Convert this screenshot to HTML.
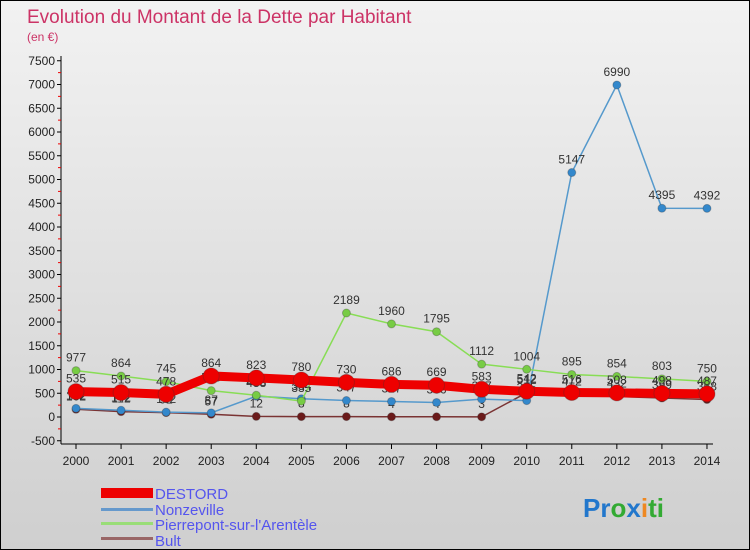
<!DOCTYPE html>
<html><head><meta charset="utf-8"><style>
body{margin:0;}
#wrap{width:748px;height:548px;border:1px solid #000;background:linear-gradient(#f2f2f2,#cfcfcf);position:relative;overflow:hidden;font-family:"Liberation Sans",sans-serif;}
</style></head><body>
<div id="wrap">
<svg id="svg" width="748" height="548" style="position:absolute;left:0;top:0" font-family="Liberation Sans, sans-serif">
<text x="26" y="22" font-size="19" fill="#cc3366">Evolution du Montant de la Dette par Habitant</text>
<text x="26" y="40" font-size="12" fill="#cc3366">(en €)</text>
<g id="axes"></g><g id="series"></g>
<g>
<rect x="100" y="487" width="52" height="10" fill="#ee0000"/>
<text x="154" y="498" font-size="15" fill="#5555ee">DESTORD</text>
<rect x="100" y="507" width="52" height="3" fill="#6699cc"/>
<text x="154" y="514" font-size="15" fill="#5555ee">Nonzeville</text>
<rect x="100" y="521" width="52" height="3" fill="#99dd77"/>
<text x="154" y="529" font-size="15" fill="#5555ee">Pierrepont-sur-l'Arentèle</text>
<rect x="100" y="536" width="52" height="3" fill="#996666"/>
<text x="154" y="545" font-size="15" fill="#5555ee">Bult</text>
</g>
<text x="582" y="516" font-size="26" font-weight="bold"><tspan fill="#2277cc">Pr</tspan><tspan fill="#33aa33">o</tspan><tspan fill="#2277cc">x</tspan><tspan fill="#ee8822">i</tspan><tspan fill="#33aa33">ti</tspan></text>
</svg>
</div>
<script>
const years=[2000,2001,2002,2003,2004,2005,2006,2007,2008,2009,2010,2011,2012,2013,2014];
const yTicks=[-500,0,500,1000,1500,2000,2500,3000,3500,4000,4500,5000,5500,6000,6500,7000,7500];
const destord=[535,515,478,864,823,780,730,686,669,583,542,516,508,498,487];
const nonzeville=[182,142,102,87,438,384,347,327,306,377,345,5147,6990,4395,4392];
const pierrepont=[977,864,745,555,458,335,2189,1960,1795,1112,1004,895,854,803,750];
const bult=[162,112,92,57,12,8,8,4,4,3,512,472,432,399,368];
const NS="http://www.w3.org/2000/svg";
function xs(i){return 75+i*45.07;}
function ys(v){return 416-v*0.0475;}
function mk(t,a,p){const e=document.createElementNS(NS,t);for(const k in a)e.setAttribute(k,a[k]);p.appendChild(e);return e;}
const ax=document.getElementById('axes'),sg=document.getElementById('series');
let yl=mk('line',{x1:60,y1:55,x2:60,y2:443,stroke:'#000'},ax);


let xl=mk('line',{x1:60,y1:443,x2:712,y2:443,stroke:'#000'},ax);


yTicks.forEach((v,i)=>{const y=ys(v);
mk('line',{x1:56,y1:y,x2:60,y2:y,stroke:'#000'},ax);
if(i<yTicks.length-1)mk('line',{x1:57,y1:ys(v+250),x2:60,y2:ys(v+250),stroke:'#e00'},ax);
const t=mk('text',{x:54,y:y+4,'font-size':12,'text-anchor':'end',fill:'#222'},ax);t.textContent=v;

});
years.forEach((yr,i)=>{const x=xs(i);mk('line',{x1:x,y1:443,x2:x,y2:448,stroke:'#000'},ax);
const t=mk('text',{x:x,y:464,'font-size':12,'text-anchor':'middle',fill:'#222'},ax);t.textContent=yr;

});
function series(data,color,w,r,dot,name){const g=mk('g',{},sg);


mk('polyline',{points:data.map((v,i)=>xs(i)+','+ys(v)).join(' '),fill:'none',stroke:color,'stroke-width':w},g);
data.forEach((v,i)=>{mk('circle',{cx:xs(i),cy:ys(v),r:r,fill:dot,stroke:'#333','stroke-opacity':0.3},g);
const t=mk('text',{x:xs(i),y:ys(v)-9,'font-size':12,'text-anchor':'middle',fill:'#333'},g);t.textContent=v;});}
series(bult,'#7a3333',1.5,4,'#6b1a1a','series-bult');
series(nonzeville,'#5599cc',1.5,4,'#3388cc','series-nonzeville');
series(pierrepont,'#88dd55',1.5,4,'#77cc44','series-pierrepont');
series(destord,'#ee0000',9,8,'#ee0000','series-destord');
</script>
</body></html>
